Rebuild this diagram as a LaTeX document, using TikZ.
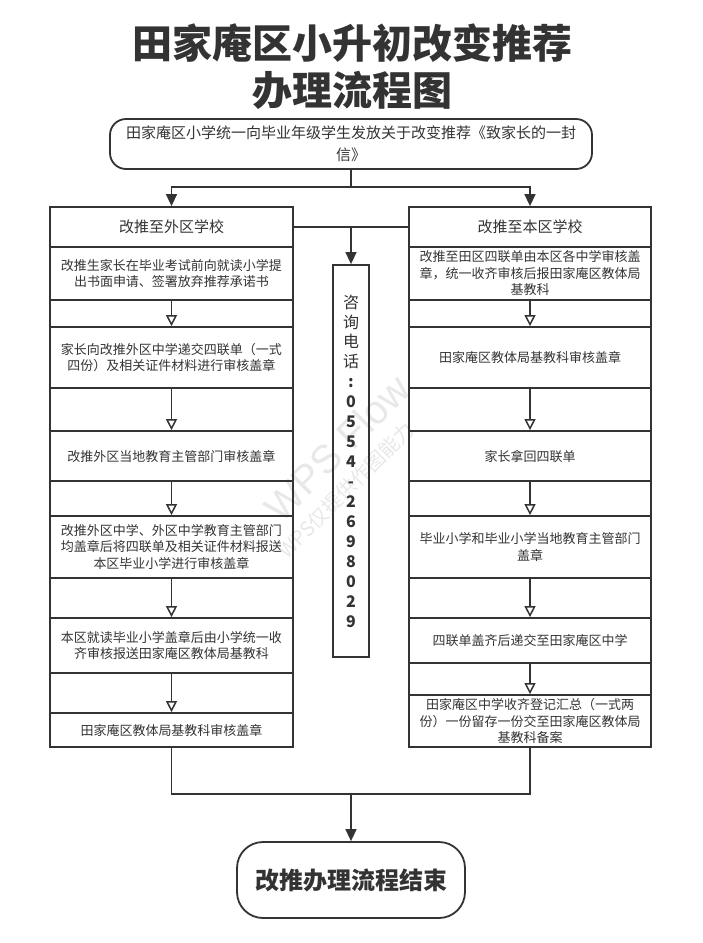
\documentclass[tikz,border=0pt]{standalone}
\usepackage{fontspec}
\setmainfont{Noto Sans CJK SC}
\newfontfamily\wmfont{Liberation Sans}
\usetikzlibrary{arrows.meta,calc}
\definecolor{ink}{HTML}{333333}
\definecolor{wm}{HTML}{E8E8E8}
\begin{document}
\begin{tikzpicture}[x=1pt,y=-1pt,
  box/.style={draw=ink,line width=1.8pt,inner sep=0pt,text=ink,align=center},
  hdr/.style={box,font=\fontsize{15}{20}\selectfont},
  rowL/.style={box,minimum width=243pt,text width=232pt,font=\fontsize{13}{16.5}\selectfont},
  rowR/.style={box,minimum width=242pt,text width=232pt,font=\fontsize{13}{16.5}\selectfont},
  conn/.style={draw=ink,line width=1.5pt},
  filledtip/.style={-{Triangle[length=12pt,width=11pt]}},
  opentip/.style={-{Triangle[open,length=11pt,width=11pt,fill=white]}}
]
\useasboundingbox (0,0) rectangle (702,943);
% watermark
\node[rotate=45,font=\wmfont\fontsize{40}{40}\selectfont,text=wm] (wm1) at (337,448) {WPS Flow};
\node[rotate=45,font=\fontsize{20}{20}\selectfont,text=wm] (wm2) at (346,490) {WPS仅提供作图能力};
% title
\node[font=\bfseries\fontsize{40}{47}\selectfont,text=ink,align=center] (title) at (352,67) {田家庵区小升初改变推荐\\办理流程图};
% top box
\node[box,rounded corners=16pt,minimum width=482pt,minimum height=50pt,text width=462pt,font=\fontsize{15}{22}\selectfont] (T) at (351,144) {田家庵区小学统一向毕业年级学生发放关于改变推荐《致家长的一封\\信》};
% columns
\node[box,minimum width=243pt,minimum height=540pt] (Lcol) at (171.5,477) {};
\node[box,minimum width=242pt,minimum height=540pt] (Rcol) at (530,477) {};
% left rows
\node[hdr,minimum width=243pt,minimum height=40pt] (L0) at (171.5,227) {改推至外区学校};
\node[rowL,minimum height=53pt] (L1) at (171.5,273.5) {改推生家长在毕业考试前向就读小学提\\出书面申请、签署放弃推荐承诺书};
\node[rowL,minimum height=61pt] (L2) at (171.5,357.5) {家长向改推外区中学递交四联单（一式\\四份）及相关证件材料进行审核盖章};
\node[rowL,minimum height=50pt] (L3) at (171.5,456) {改推外区当地教育主管部门审核盖章};
\node[rowL,minimum height=62pt] (L4) at (171.5,547) {改推外区中学、外区中学教育主管部门\\均盖章后将四联单及相关证件材料报送\\本区毕业小学进行审核盖章};
\node[rowL,minimum height=55pt] (L5) at (171.5,645.5) {本区就读毕业小学盖章后由小学统一收\\齐审核报送田家庵区教体局基教科};
\node[rowL,minimum height=34pt] (L6) at (171.5,730) {田家庵区教体局基教科审核盖章};
% right rows
\node[hdr,minimum width=242pt,minimum height=40pt] (R0) at (530,227) {改推至本区学校};
\node[rowR,minimum height=53pt] (R1) at (530,273.5) {改推至田区四联单由本区各中学审核盖\\章，统一收齐审核后报田家庵区教体局\\基教科};
\node[rowR,minimum height=61pt] (R2) at (530,357.5) {田家庵区教体局基教科审核盖章};
\node[rowR,minimum height=50pt] (R3) at (530,456) {家长拿回四联单};
\node[rowR,minimum height=62pt] (R4) at (530,547) {毕业小学和毕业小学当地教育主管部门\\盖章};
\node[rowR,minimum height=45pt] (R5) at (530,640.5) {四联单盖齐后递交至田家庵区中学};
\node[rowR,minimum height=52pt] (R6) at (530,721) {田家庵区中学收齐登记汇总（一式两\\份）一份留存一份交至田家庵区教体局\\基教科备案};
% middle box
\node[box,minimum width=36pt,minimum height=392pt,font=\fontsize{16}{19.94}\selectfont] (M) at (351,461) {咨\\询\\电\\话\\{\bfseries :}\\{\bfseries 0}\\{\bfseries 5}\\{\bfseries 5}\\{\bfseries 4}\\{\bfseries -}\\{\bfseries 2}\\{\bfseries 6}\\{\bfseries 9}\\{\bfseries 8}\\{\bfseries 0}\\{\bfseries 2}\\{\bfseries 9}};
% end box
\node[box,rounded corners=26pt,minimum width=228pt,minimum height=76pt,font=\bfseries\fontsize{24}{24}\selectfont] (E) at (351,880) {改推办理流程结束};
% connectors
\coordinate (split) at (351,187);
\draw[conn] (T.south) -- (split);
\draw[conn,filledtip] (split) -| (L0.north);
\draw[conn,filledtip] (split) -| (R0.north);
\draw[conn] (L0.east) -- (R0.west);
\coordinate (mid) at (M.north |- L0.east);
\draw[conn,filledtip] (mid) -- (M.north);
\foreach \a/\b in {L1/L2,L2/L3,L3/L4,L4/L5,L5/L6,R1/R2,R2/R3,R3/R4,R4/R5,R5/R6}
  \draw[conn,opentip] (\a.south) -- (\b.north);
\coordinate (join) at (351,794);
\draw[conn] (L6.south) |- (join);
\draw[conn] (R6.south) |- (join);
\draw[conn,filledtip] (join) -- (E.north);
\end{tikzpicture}
\end{document}
